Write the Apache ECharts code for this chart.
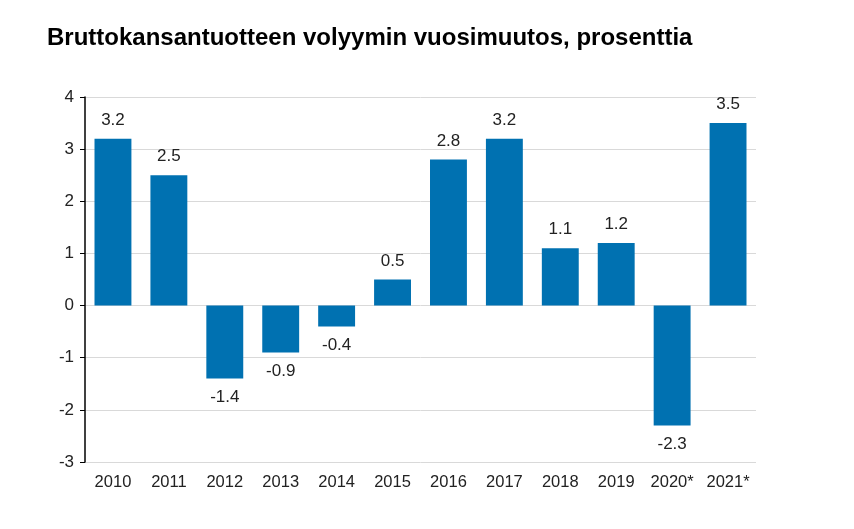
<!DOCTYPE html>
<html>
<head>
<meta charset="utf-8">
<script src="https://cdn.jsdelivr.net/npm/echarts@6/dist/echarts.min.js"></script>
<style>
html,body{margin:0;padding:0;background:#fff;}
#chart{width:854px;height:529px;}
</style>
</head>
<body>
<div id="chart"></div>
<script>
var years = ['2010','2011','2012','2013','2014','2015','2016','2017','2018','2019','2020*','2021*'];
var growth = [3.2, 2.5, -1.4, -0.9, -0.4, 0.5, 2.8, 3.2, 1.1, 1.2, -2.3, 3.5];

var chart = echarts.init(document.getElementById('chart'));
var fontFam = 'Arial, "Liberation Sans", sans-serif';

chart.setOption({
    animation:false,
    title:{
        text:'Bruttokansantuotteen volyymin vuosimuutos, prosenttia',
        left:42, top:21,
        textStyle:{fontFamily:fontFam,fontSize:24,fontWeight:'bold',color:'#000'}
    },
    grid:{left:85,right:98,top:97,bottom:67,containLabel:false},
    xAxis:{
        type:'category',
        data:years,
        axisLine:{show:false},
        axisTick:{show:false},
        axisLabel:{interval:0,margin:12,fontFamily:fontFam,fontSize:16.5,color:'#222'}
    },
    yAxis:{
        type:'value',
        min:-3, max:4, interval:1,
        axisLine:{show:true,lineStyle:{color:'#000',width:1.5}},
        axisTick:{show:true,length:5,lineStyle:{color:'#000'}},
        axisLabel:{margin:11,fontFamily:fontFam,fontSize:17,color:'#222'},
        splitLine:{show:true,lineStyle:{color:'#d9d9d9',width:1}}
    },
    series:[{
        type:'bar',
        barWidth:'66%',
        itemStyle:{color:'#0071b1'},
        data:growth.map(function(v){
            return {value:v,label:{position:v<0?'bottom':'top'}};
        }),
        label:{
            show:true,
            distance:10,
            fontFamily:fontFam,fontSize:17,color:'#222',
            formatter:function(p){return p.value.toFixed(1);}
        }
    }]
});
</script>
</body>
</html>
